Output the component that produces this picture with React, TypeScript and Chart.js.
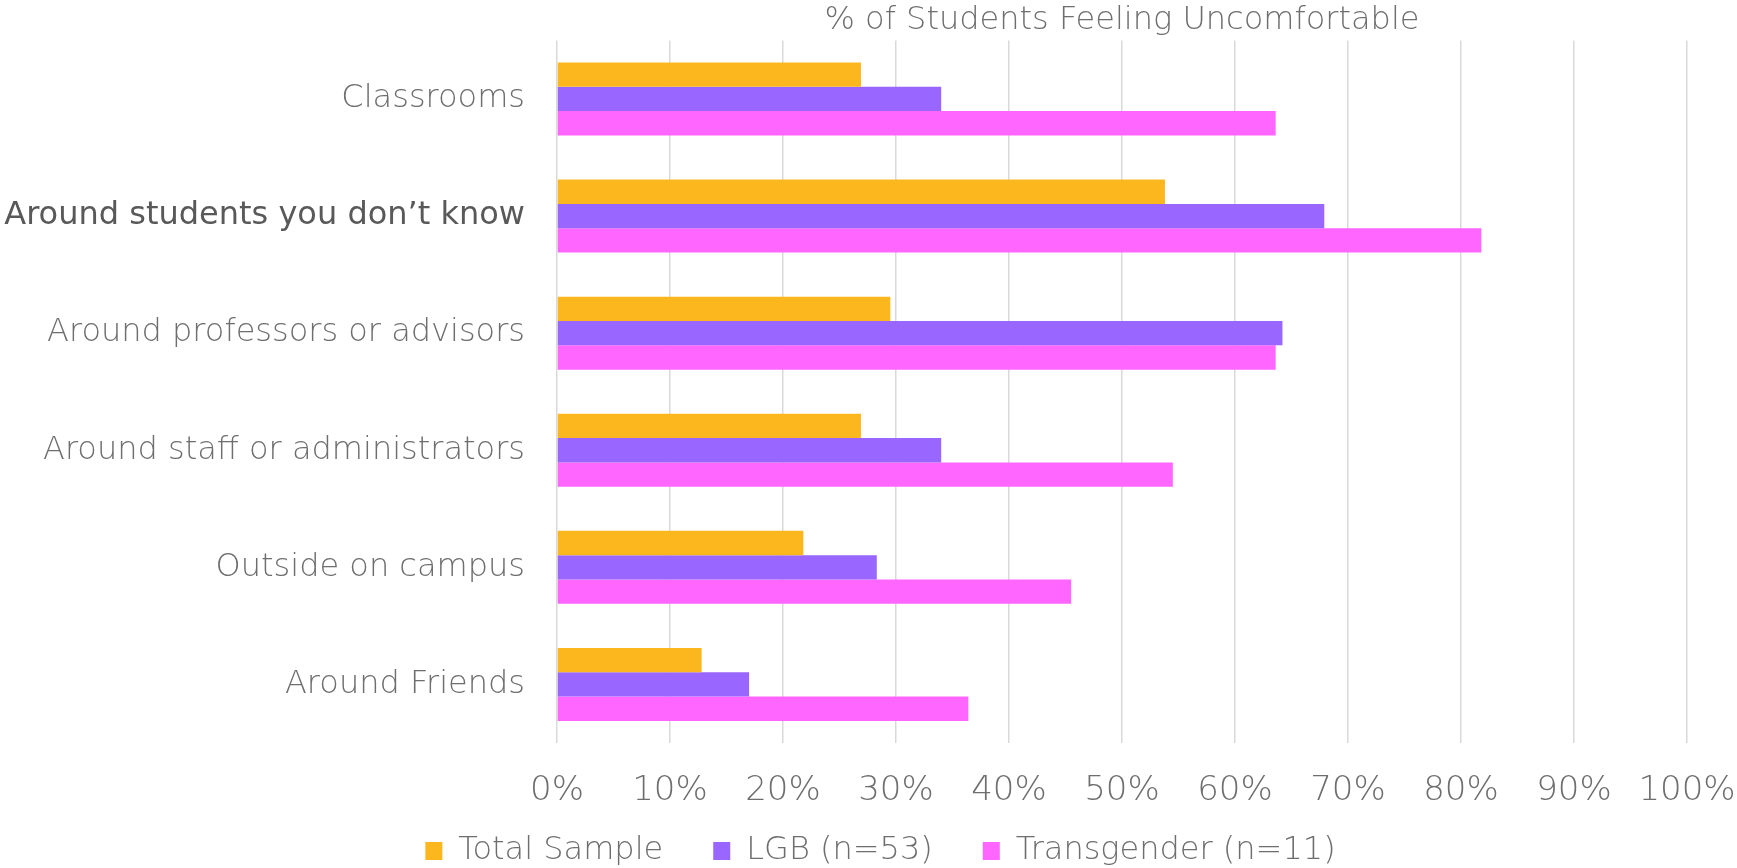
import React, { useEffect, useRef } from "react";
import { Chart, registerables } from "chart.js";

Chart.register(...registerables);

const categories = [
  "Classrooms",
  "Around students you don\u2019t know",
  "Around professors or advisors",
  "Around staff or administrators",
  "Outside on campus",
  "Around Friends",
];
const totalSample = [26.9, 53.8, 29.5, 26.9, 21.8, 12.8];
const lgb = [34.0, 67.9, 64.2, 34.0, 28.3, 17.0];
const transgender = [63.6, 81.8, 63.6, 54.5, 45.5, 36.4];
const seriesNames = ["Total Sample", "LGB (n=53)", "Transgender (n=11)"];
const chartTitle = "% of Students Feeling Uncomfortable";
const highlightIndex = 1;

const THIN = "'DejaVu Sans', sans-serif";
const THIN_COLOR = "#6e6e6e";
const THIN_FONT = { family: THIN, size: 32, weight: "200" as any, lineHeight: 1.2 };

const legendSizer = {
  id: "legendSizer",
  afterInit(chart: any) {
    const lg = chart.legend;
    if (!lg) return;
    const orig = lg.fit.bind(lg);
    lg.fit = function () {
      orig();
      this.height = 61;
    };
  },
  afterLayout(chart: any) {
    const lg = chart.legend;
    if (!lg) return;
    lg.top = 785;
    lg.bottom = 868;
    lg.left += 12;
    lg.right += 12;
  },
};

export default function App() {
  const ref = useRef<HTMLCanvasElement | null>(null);
  useEffect(() => {
    if (!ref.current) return;
    const chart = new Chart(ref.current, {
      type: "bar",
      data: {
        labels: categories,
        datasets: [
          { label: seriesNames[0], data: totalSample, backgroundColor: "#FDB71E" },
          { label: seriesNames[1], data: lgb, backgroundColor: "#9966FF" },
          { label: seriesNames[2], data: transgender, backgroundColor: "#FF66FF" },
        ],
      },
      plugins: [legendSizer],
      options: {
        indexAxis: "y",
        animation: false,
        responsive: false,
        maintainAspectRatio: false,
        datasets: {
          bar: { categoryPercentage: 0.623, barPercentage: 1.0 },
        },
        layout: { padding: { top: 1, left: 0, right: 0, bottom: 0 } },
        plugins: {
          tooltip: { enabled: false },
          title: {
            display: true,
            text: chartTitle,
            fullSize: false,
            color: THIN_COLOR,
            font: THIN_FONT,
            padding: { top: 0, bottom: 1 },
          },
          legend: {
            position: "bottom",
            labels: {
              color: THIN_COLOR,
              font: THIN_FONT,
              boxWidth: 17,
              boxHeight: 18,
              padding: 50,
            },
          },
        },
        scales: {
          x: {
            min: 0,
            max: 100,
            grid: { color: "#d9d9d9", lineWidth: 1.5, drawTicks: false },
            border: { display: false },
            afterFit: (scale: any) => {
              scale.height = 64;
              scale.paddingRight = 50;
              scale.paddingLeft = 0;
            },
            ticks: {
              stepSize: 10,
              padding: 28,
              color: THIN_COLOR,
              font: { family: THIN, size: 34, weight: "200" as any },
              callback: (v: any) => v + "%",
            },
          },
          y: {
            grid: { display: false, drawTicks: false },
            border: { display: false },
            afterFit: (scale: any) => {
              scale.width = 557;
              scale.paddingTop = 0;
              scale.paddingBottom = 0;
            },
            ticks: {
              padding: 32,
              color: (ctx: any) => (ctx.index === highlightIndex ? "#595959" : THIN_COLOR),
              font: (ctx: any) =>
                ctx.index === highlightIndex
                  ? { family: "'DejaVu Sans', sans-serif", size: 32, weight: "normal" }
                  : THIN_FONT,
            },
          },
        },
      },
    });
    return () => chart.destroy();
  }, []);
  return (
    <div style={{ position: "fixed", left: 0, top: 0, width: 1737, height: 868, background: "#fff" }}>
      <canvas ref={ref} width={1737} height={868} style={{ width: 1737, height: 868 }} />
    </div>
  );
}
